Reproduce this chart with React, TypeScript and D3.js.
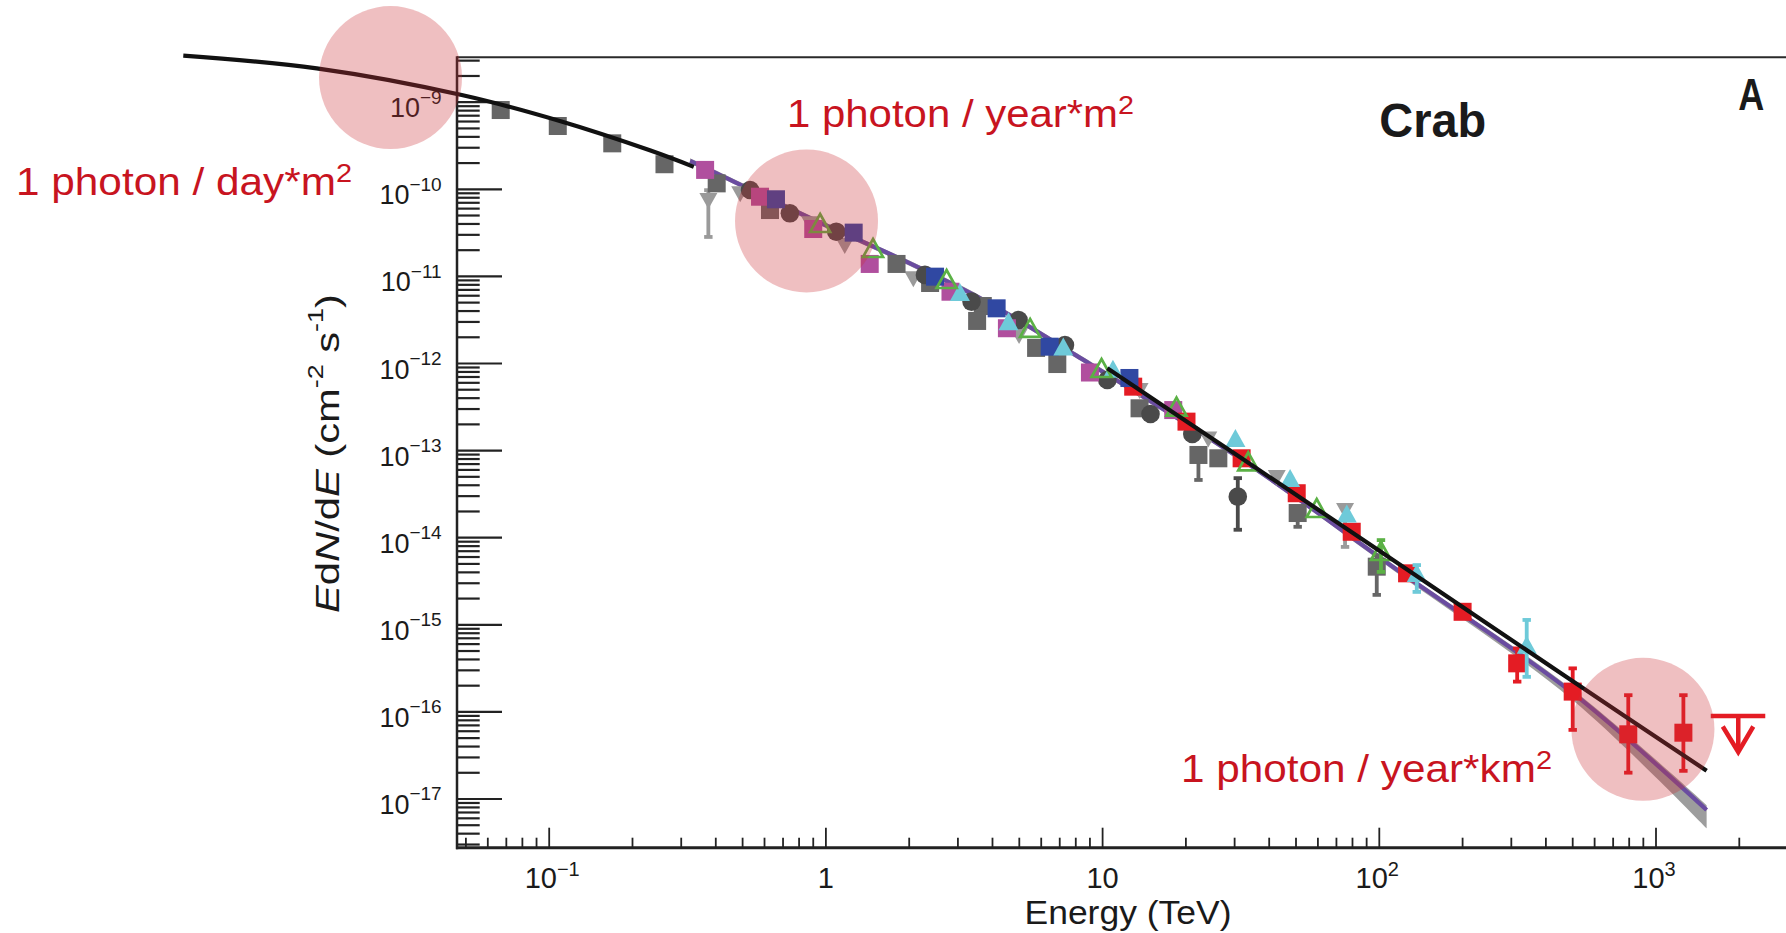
import React, { useEffect } from 'react';
import * as d3 from 'd3';

const W = 1786;
const H = 933;

// frame of the plot (pixels)
const PLOT_LEFT = 457;
const PLOT_RIGHT = 1786;
const PLOT_TOP = 57.3;
const PLOT_BOTTOM = 847.7;

// ---- tick labels ----
const xTickValues = [0.1, 1, 10, 100, 1000];
const xTickLabels = ['10^\u22121', '1', '10', '10^2', '10^3'];
const yTickValues = [1e-9, 1e-10, 1e-11, 1e-12, 1e-13, 1e-14, 1e-15, 1e-16, 1e-17];
const yTickLabels = ['10^\u22129', '10^\u221210', '10^\u221211', '10^\u221212', '10^\u221213', '10^\u221214', '10^\u221215', '10^\u221216', '10^\u221217'];

// ---- data: [E (TeV), E dN/dE (cm^-2 s^-1)] ----
const graySquares = [
  [0.0668, 8.13e-10], [0.1074, 5.33e-10], [0.169, 3.37e-10], [0.261, 1.94e-10], [0.403, 1.17e-10],
  [0.628, 5.78e-11], [1.80, 1.39e-11], [2.38, 8.40e-12], [3.69, 4.57e-12], [3.52, 3.08e-12],
  [5.75, 1.51e-12], [6.86, 9.86e-13], [13.6, 3.06e-13], [22.2, 8.91e-14], [26.2, 8.16e-14],
  [50.7, 1.92e-14], [97.9, 4.65e-15],
];
const graySquareErr = [[22.2, 4.59e-14, 1.05e-13], [50.7, 1.33e-14, 2.2e-14], [97.9, 2.20e-15, 6.3e-15]];

const grayTriangles = [
  [0.376, 7.54e-11], [0.490, 9.0e-11], [0.877, 4.07e-11], [1.17, 2.29e-11], [2.07, 9.51e-12],
  [4.99, 2.12e-12], [13.6, 4.96e-13], [24.1, 1.38e-13], [42.6, 4.98e-14], [75.2, 2.08e-14],
];
const grayTriangleErr = [[0.376, 2.83e-11, 9.8e-11], [75.2, 7.82e-15, 2.37e-14]];

const darkCircles = [
  [0.532, 9.82e-11], [0.741, 5.30e-11], [1.09, 3.26e-11], [2.28, 1.04e-11], [3.36, 5.13e-12],
  [4.97, 3.16e-12], [7.31, 1.63e-12], [10.4, 6.47e-13], [14.9, 2.63e-13], [21.1, 1.55e-13], [30.8, 2.96e-14],
];
const darkCircleErr = [[30.8, 1.23e-14, 4.84e-14]];

const magentaSquares = [
  [0.366, 1.67e-10], [0.578, 8.22e-11], [0.900, 3.50e-11], [1.44, 1.39e-11], [2.82, 6.67e-12],
  [4.51, 2.54e-12], [9.00, 7.88e-13], [18.0, 2.92e-13],
];

const blueSquares = [
  [0.660, 7.68e-11], [1.26, 3.18e-11], [2.48, 9.93e-12], [4.14, 4.30e-12], [6.44, 1.56e-12], [12.5, 6.82e-13],
];

const cyanTriangles = [
  [3.05, 6.28e-12], [4.57, 2.90e-12], [7.21, 1.49e-12], [10.9, 8.24e-13], [30.2, 1.32e-13],
  [47.6, 4.59e-14], [76.3, 1.80e-14], [136.6, 3.73e-15], [341, 5.61e-16],
];
const cyanTriangleErr = [[136.6, 2.38e-15, 4.86e-15], [341, 2.52e-16, 1.14e-15]];

const greenTriangles = [
  [0.953, 3.89e-11], [1.48, 2.01e-11], [2.73, 8.85e-12], [5.47, 2.43e-12], [9.91, 8.42e-13],
  [18.5, 3.04e-13], [33.6, 7.15e-14], [59.4, 2.08e-14], [101.4, 6.67e-15],
];
const greenTriangleErr = [[101.4, 4.04e-15, 9.41e-15]];

const redSquares = [
  [12.9, 5.42e-13], [20.1, 2.15e-13], [31.8, 8.16e-14], [50.3, 3.24e-14], [79.5, 1.17e-14],
  [126, 3.90e-15], [200, 1.41e-15], [315, 3.61e-16], [500, 1.71e-16], [794, 5.53e-17], [1256, 5.77e-17],
];
const redSquareErr = [[315, 2.22e-16, 5.37e-16], [500, 6.2e-17, 3.17e-16], [794, 2.0e-17, 1.56e-16], [1256, 2.1e-17, 1.56e-16]];
const redUpperLimit = [1983, 8.97e-17];

// ---- model curves ----
const blackCurveLow = [[0.00476, 3.42e-9], [0.01445, 2.45e-9], [0.0483, 1.21e-9], [0.110, 6.04e-10], [0.231, 2.8e-10], [0.333, 1.81e-10]];
const blackCurveHigh = [[10.4, 8.81e-13], [31.8, 8.16e-14], [97.9, 7.41e-15], [502, 2.23e-16], [1524, 2.11e-17]];
const purpleE = [0.323, 0.426, 0.908, 1.96, 3.71, 8.02, 31.8, 119, 502, 1524];
const purpleF = [2.12e-10, 1.40e-10, 4.44e-11, 1.47e-11, 5.36e-12, 1.24e-12, 7.91e-14, 4.04e-15, 1.63e-16, 7.48e-18];
const bandUpper = [2.27e-10, 1.50e-10, 4.75e-11, 1.57e-11, 5.74e-12, 1.33e-12, 8.46e-14, 4.32e-15, 1.78e-16, 8.5e-18];
const bandLower = [1.98e-10, 1.31e-10, 4.15e-11, 1.37e-11, 5.01e-12, 1.16e-12, 7.39e-14, 3.70e-15, 1.35e-16, 4.6e-18];

// ---- highlight circles (centres in data units) ----
const highlightCircles = [[0.0267, 1.92e-9], [0.851, 4.33e-11], [897, 6.31e-17]];

const FONT = '"Liberation Sans", Arial, Helvetica, sans-serif';
const RED_TEXT = '#c8141f';

type Shape = 'square' | 'circle' | 'triUp' | 'triDown' | 'triOpen';

const SERIES: { data: number[][]; err?: number[][]; shape: Shape; color: string }[] = [
  { data: grayTriangles, err: grayTriangleErr, shape: 'triDown', color: '#9a9a9a' },
  { data: graySquares, err: graySquareErr, shape: 'square', color: '#666666' },
  { data: darkCircles, err: darkCircleErr, shape: 'circle', color: '#4a4a4a' },
  { data: magentaSquares, shape: 'square', color: '#b04f9e' },
  { data: redSquares, err: redSquareErr, shape: 'square', color: '#e41c24' },
  { data: blueSquares, shape: 'square', color: '#3048a2' },
  { data: cyanTriangles, err: cyanTriangleErr, shape: 'triUp', color: '#6ecad9' },
  { data: greenTriangles, err: greenTriangleErr, shape: 'triOpen', color: '#5bb145' },
];

function marker(shape: Shape, cx: number, cy: number, color: string, key: string) {
  switch (shape) {
    case 'square':
      return <rect key={key} x={cx - 9} y={cy - 9} width={18} height={18} fill={color} />;
    case 'circle':
      return <circle key={key} cx={cx} cy={cy} r={9.3} fill={color} />;
    case 'triUp':
      return <polygon key={key} points={`${cx},${cy - 11} ${cx + 10},${cy + 7} ${cx - 10},${cy + 7}`} fill={color} />;
    case 'triDown':
      return <polygon key={key} points={`${cx - 9},${cy - 7} ${cx + 9},${cy - 7} ${cx},${cy + 9}`} fill={color} />;
    case 'triOpen':
      return (
        <polygon key={key} points={`${cx},${cy - 11} ${cx + 10},${cy + 7} ${cx - 10},${cy + 7}`}
          fill="none" stroke={color} strokeWidth={2.7} strokeLinejoin="miter" />
      );
  }
}

function supLabel(label: string) {
  const [base, exp] = label.split('^');
  return { base, exp };
}

export default function App() {
  useEffect(() => {
    document.body.style.margin = '0';
  }, []);

  const xs = d3.scaleLog().domain([0.01, 1000]).range([272.5, 1656.0]);
  const ys = d3.scaleLog().domain([1e-10, 1e-17]).range([189.3, 799.0]);

  const xAxisScale = d3.scaleLog().domain([xs.invert(PLOT_LEFT), xs.invert(PLOT_RIGHT)]);
  const yAxisScale = d3.scaleLog().domain([ys.invert(PLOT_BOTTOM), ys.invert(PLOT_TOP)]);
  const isMajor = (v: number) => Math.abs(Math.log10(v) - Math.round(Math.log10(v))) < 1e-6;
  const xTicks = xAxisScale.ticks(30).filter((v) => xs(v) > PLOT_LEFT + 1 && xs(v) < PLOT_RIGHT);
  const yTicks = yAxisScale.ticks(30).filter((v) => ys(v) > PLOT_TOP + 1 && ys(v) < PLOT_BOTTOM - 1);

  const line = d3
    .line<number[]>()
    .x((d) => xs(d[0]))
    .y((d) => ys(d[1]))
    .curve(d3.curveCatmullRom.alpha(0.5));

  const purple = purpleE.map((e, i) => [e, purpleF[i]]);
  const band = d3
    .area<number>()
    .x((i) => xs(purpleE[i]))
    .y0((i) => ys(bandLower[i]))
    .y1((i) => ys(bandUpper[i]))
    .curve(d3.curveCatmullRom.alpha(0.5));

  const ulx = xs(redUpperLimit[0]);
  const uly = ys(redUpperLimit[1]);

  return (
    <svg width={W} height={H} viewBox={`0 0 ${W} ${H}`}
      style={{ position: 'absolute', left: 0, top: 0, display: 'block', background: '#fff' }}
      fontFamily={FONT}>
      <rect x={0} y={0} width={W} height={H} fill="#ffffff" />

      {/* frame */}
      <line x1={PLOT_LEFT} x2={PLOT_RIGHT} y1={PLOT_TOP} y2={PLOT_TOP} stroke="#2a2a2a" strokeWidth={2} />
      <line x1={PLOT_LEFT} x2={PLOT_LEFT} y1={PLOT_TOP - 1} y2={PLOT_BOTTOM + 1.5} stroke="#222" strokeWidth={2.5} />
      <line x1={PLOT_LEFT - 1} x2={PLOT_RIGHT} y1={PLOT_BOTTOM} y2={PLOT_BOTTOM} stroke="#222" strokeWidth={3} />

      {/* y ticks */}
      {yTicks.map((v, i) => (
        <line key={'yt' + i} x1={PLOT_LEFT} x2={PLOT_LEFT + (isMajor(v) ? 45 : 22.7)} y1={ys(v)} y2={ys(v)}
          stroke="#222" strokeWidth={2.2} />
      ))}
      {/* x ticks */}
      {xTicks.map((v, i) => (
        <line key={'xt' + i} x1={xs(v)} x2={xs(v)} y1={PLOT_BOTTOM} y2={PLOT_BOTTOM - (isMajor(v) ? 20 : 10)}
          stroke="#222" strokeWidth={1.8} />
      ))}

      {/* y tick labels */}
      {yTickValues.map((v, i) => {
        const { base, exp } = supLabel(yTickLabels[i]);
        return (
          <text key={'yl' + i} x={441.7} y={ys(v) + 15} textAnchor="end" fontSize={27} fill="#1a1a1a">
            {base}
            {exp && <tspan fontSize={19} dy={-13.6}>{exp}</tspan>}
          </text>
        );
      })}
      {/* x tick labels */}
      {xTickValues.map((v, i) => {
        const { base, exp } = supLabel(xTickLabels[i]);
        const shift = exp ? (exp.startsWith('\u2212') ? 3 : -2) : 0;
        return (
          <text key={'xl' + i} x={xs(v) + shift} y={888} textAnchor="middle" fontSize={29} fill="#1a1a1a">
            {base}
            {exp && <tspan fontSize={20} dy={-12}>{exp}</tspan>}
          </text>
        );
      })}

      {/* axis titles */}
      <text x={1128} y={924} textAnchor="middle" fontSize={33} textLength={207} lengthAdjust="spacingAndGlyphs" fill="#1a1a1a">
        Energy (TeV)
      </text>
      <text transform="translate(339,453.5) rotate(-90)" textAnchor="middle" fontSize={34} textLength={319}
        lengthAdjust="spacingAndGlyphs" fill="#1a1a1a">
        <tspan fontStyle="italic">E</tspan>d<tspan fontStyle="italic">N</tspan>/d<tspan fontStyle="italic">E</tspan> (cm
        <tspan fontSize={22} dy={-16}>-2</tspan>
        <tspan dy={16}> s</tspan>
        <tspan fontSize={22} dy={-16}>-1</tspan>
        <tspan dy={16}>)</tspan>
      </text>

      {/* model band & purple line */}
      <path d={band(d3.range(purpleE.length)) || ''} fill="#8c8c8c" opacity={0.85} />
      <path d={line(purple) || ''} fill="none" stroke="#6a4ca0" strokeWidth={4.2} />

      {/* data series */}
      {SERIES.map((s, si) => (
        <g key={'s' + si}>
          {(s.err || []).map((e, ei) => {
            const x = xs(e[0]);
            const y1 = ys(e[1]);
            const y2 = ys(e[2]);
            return (
              <g key={'e' + ei} fill={s.color}>
                <rect x={x - 1.9} y={Math.min(y1, y2)} width={3.8} height={Math.abs(y1 - y2)} />
                <rect x={x - 4.2} y={y1 - 2} width={8.4} height={3.8} />
                <rect x={x - 4.2} y={y2 - 1.8} width={8.4} height={3.8} />
              </g>
            );
          })}
          {s.data.map((d, di) => marker(s.shape, xs(d[0]), ys(d[1]), s.color, 'm' + di))}
        </g>
      ))}

      {/* black model curves */}
      <path d={line(blackCurveLow) || ''} fill="none" stroke="#111" strokeWidth={4.2} />
      <path d={line(blackCurveHigh) || ''} fill="none" stroke="#111" strokeWidth={4.2} />

      {/* upper limit */}
      <g stroke="#e41c24" strokeWidth={4.5} fill="none">
        <line x1={ulx - 27.5} x2={ulx + 27} y1={uly} y2={uly} />
        <line x1={ulx} x2={ulx} y1={uly} y2={uly + 36} />
        <polyline points={`${ulx - 15.5},${uly + 10.5} ${ulx},${uly + 36} ${ulx + 15},${uly + 10.5}`} />
      </g>

      {/* highlight circles */}
      {highlightCircles.map((c, i) => (
        <circle key={'hc' + i} cx={xs(c[0])} cy={ys(c[1])} r={71.5} fill="#cc2f38" opacity={0.31} />
      ))}

      {/* annotations */}
      <text x={16} y={195} fontSize={38} fill={RED_TEXT} textLength={336} lengthAdjust="spacingAndGlyphs">
        1 photon / day*m<tspan fontSize={26} dy={-13}>2</tspan>
      </text>
      <text x={787} y={127} fontSize={38} fill={RED_TEXT} textLength={347} lengthAdjust="spacingAndGlyphs">
        1 photon / year*m<tspan fontSize={26} dy={-13}>2</tspan>
      </text>
      <text x={1181} y={782} fontSize={38} fill={RED_TEXT} textLength={371} lengthAdjust="spacingAndGlyphs">
        1 photon / year*km<tspan fontSize={26} dy={-13}>2</tspan>
      </text>
      <text x={1379.3} y={136.7} fontSize={48} fontWeight="bold" fill="#1a1a1a" textLength={107} lengthAdjust="spacingAndGlyphs">
        Crab
      </text>
      <text x={1738.3} y={110} fontSize={45} fontWeight="bold" fill="#1a1a1a" textLength={26} lengthAdjust="spacingAndGlyphs">
        A
      </text>
    </svg>
  );
}
